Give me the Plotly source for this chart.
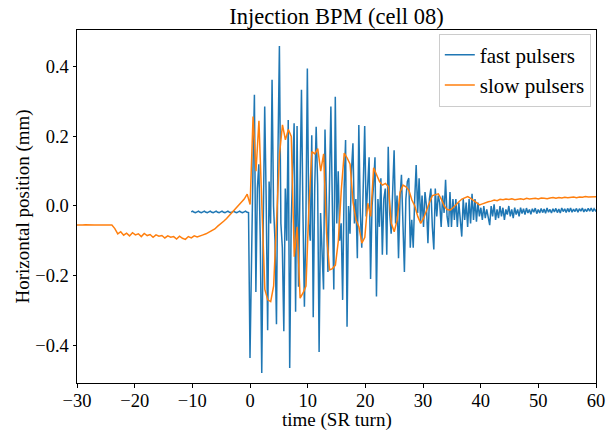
import plotly.graph_objects as go

# ---------------- data ----------------
title_text = "Injection BPM (cell 08)"
x_label = "time (SR turn)"
y_label = "Horizontal position (mm)"
x_ticks = [-30, -20, -10, 0, 10, 20, 30, 40, 50, 60]
y_ticks = [-0.4, -0.2, 0.0, 0.2, 0.4]

# fast pulsers: regular samples starting at t = -10.2
fast_start, fast_step = -10.2, 0.255
fast_pre = [
    -0.017, -0.015, -0.018, -0.019, -0.017, -0.015, -0.018, -0.019,
    -0.017, -0.015, -0.018, -0.019, -0.017, -0.015, -0.018, -0.019,
    -0.017, -0.015, -0.018, -0.019, -0.017, -0.015, -0.018, -0.019,
    -0.017, -0.015, -0.018, -0.019, -0.017, -0.015, -0.018, -0.019,
    -0.017, -0.015, -0.018, -0.019, -0.017, -0.015, -0.018, -0.019,
]
fast_kick = [
    -0.437, -0.08, 0.10, 0.32,
    -0.247, 0.05, 0.12, -0.10,
    -0.48, -0.05, 0.286, 0.02,
    -0.357, 0.07, -0.05, 0.363,
    0.0, -0.10, -0.34, 0.15,
    0.46, -0.05, -0.12, -0.36,
    0.05, -0.10, 0.247, -0.466,
    -0.05, 0.10, 0.238, -0.304,
    0.23, -0.232, 0.0, 0.334,
    -0.02, -0.29, -0.05, 0.395,
    -0.05, -0.10, 0.203, -0.32,
    0.05, 0.228, 0.06, -0.42,
    -0.02, -0.15, -0.24, 0.22,
    -0.05, -0.19, 0.05, 0.286,
    0.0, -0.24, 0.314, -0.05,
    0.10, -0.10, -0.05, -0.27,
    0.05, 0.19, -0.347, 0.0,
    -0.08, 0.10, 0.18, -0.05,
    0.02, -0.15, 0.233, -0.02,
    -0.12, 0.05, 0.23, -0.03,
    0.08, 0.14, -0.21, 0.0,
    0.06, 0.14, -0.26, 0.02,
    -0.06, 0.08, -0.14, 0.02,
    0.05, -0.14, 0.17, -0.02,
    -0.08, 0.05, 0.16, -0.05,
    0.03, -0.15, 0.02, 0.09,
    -0.05, -0.19, 0.02, 0.07,
    0.08, -0.12, -0.04, -0.12,
    0.02, 0.118, -0.02, 0.08,
    -0.045, 0.03, -0.06, 0.04,
    0.0, -0.107, 0.02, 0.05,
    -0.06, -0.125, 0.05, -0.03,
    0.03, 0.01, -0.06, 0.03,
    -0.02, 0.075, -0.03, -0.06,
    0.04, -0.06, 0.02, -0.04,
    0.02, -0.06, 0.01, -0.05,
    -0.088, 0.02, -0.04, 0.01,
    -0.06,
]
fast_decay = [
    0.02, -0.05, 0.035, -0.04,
    0.02, -0.045, 0.01, -0.03,
    -0.005, -0.04, 0.0, -0.035,
    -0.01, -0.03, -0.055, 0.0,
    -0.03, 0.005, -0.04, -0.01,
    -0.035, 0.0, -0.03, -0.005,
    -0.04, -0.01, -0.025, 0.0,
    -0.03, -0.01, -0.035, -0.005,
    -0.025, -0.01, -0.03, -0.005,
]
fast_tail = [
    -0.022, -0.008, -0.025, -0.006,
    -0.02, -0.01, -0.024, -0.008,
    -0.018, -0.006, -0.022, -0.01,
    -0.02, -0.007, -0.019, -0.009,
    -0.021, -0.006, -0.018, -0.01,
    -0.02, -0.008, -0.017, -0.007,
    -0.019, -0.009, -0.02, -0.006,
    -0.016, -0.008, -0.019, -0.007,
    -0.017, -0.006, -0.018, -0.009,
    -0.016, -0.007, -0.018, -0.008,
    -0.015, -0.006, -0.017, -0.009,
    -0.016, -0.007, -0.015, -0.006,
    -0.016, -0.008, -0.014, -0.009,
]

# slow pulsers: regular samples starting at t = -31.6
slow_start, slow_step = -31.6, 0.51
slow_pre = [
    -0.055, -0.056, -0.055, -0.055, -0.056, -0.055, -0.054, -0.055,
    -0.056, -0.055, -0.055, -0.056, -0.055, -0.055, -0.056, -0.055,
]
slow_drift = [
    -0.065, -0.080, -0.074, -0.084, -0.078, -0.086, -0.077, -0.083,
    -0.080, -0.088, -0.079, -0.085, -0.082, -0.090, -0.083, -0.087,
    -0.085, -0.092, -0.086, -0.090, -0.088, -0.095, -0.087, -0.093,
    -0.096,
]
slow_rise = [
    -0.088, -0.092, -0.086, -0.089, -0.085, -0.083, -0.080, -0.076,
    -0.071, -0.066, -0.058, -0.052, -0.044, -0.036, -0.027, -0.018,
    -0.010, 0.000, 0.010, 0.020, 0.034, 0.004,
]
slow_kick = [
    0.257, 0.10, 0.245, 0.0, -0.24, -0.27, -0.275, -0.23,
    -0.05, 0.15, 0.233, 0.19, 0.22, 0.20, -0.146, -0.06,
    -0.265, -0.25, -0.23, 0.0, 0.156, 0.15, 0.165, 0.10,
    0.15, -0.08, -0.184, -0.18, -0.17, -0.10, 0.046, 0.152,
    0.138, 0.12, 0.01, -0.04, -0.06, -0.107, -0.09, 0.008,
    -0.03, 0.11, 0.09, 0.07, 0.06, 0.065, 0.056, -0.05,
    -0.074, -0.04, 0.04, 0.06, 0.055, 0.045, 0.017, 0.0,
    -0.03, -0.05, -0.035, -0.01, 0.01, 0.03, 0.032, 0.035,
    0.02, 0.0, -0.01, -0.012, -0.005, 0.005, 0.012, 0.02,
    0.024, 0.027, 0.022, 0.015, 0.008, 0.003, 0.006, 0.01,
    0.012,
]
slow_tail = [
    0.014, 0.017, 0.015, 0.019, 0.018, 0.020, 0.019, 0.021,
    0.018, 0.020, 0.021, 0.019, 0.022, 0.020, 0.021, 0.022,
    0.020, 0.023, 0.022, 0.021, 0.023, 0.024, 0.022, 0.024,
    0.023, 0.025, 0.024, 0.025, 0.026, 0.024, 0.026, 0.025,
    0.027, 0.026, 0.027, 0.026, 0.027, 0.026,
]

fast_vals = fast_pre + fast_kick + fast_decay + fast_tail
slow_vals = slow_pre + slow_drift + slow_rise + slow_kick + slow_tail
fast_t = [fast_start + fast_step * i for i in range(len(fast_vals))]
slow_t = [slow_start + slow_step * i for i in range(len(slow_vals))]

# ---------------- figure ----------------
FONT = "Liberation Serif"
L, R, T, B = 77, 15, 30, 54
W, H = 611, 437
plot_w, plot_h = W - L - R, H - T - B

fig = go.Figure()
fig.add_trace(go.Scatter(x=fast_t, y=fast_vals, mode="lines", name="fast pulsers",
                         line=dict(color="#1f77b4", width=1.5)))
fig.add_trace(go.Scatter(x=slow_t, y=slow_vals, mode="lines", name="slow pulsers",
                         line=dict(color="#ff7f0e", width=1.5)))

axis_common = dict(showline=True, linecolor="black", linewidth=1, mirror=True,
                   ticks="outside", ticklen=3.5, tickcolor="black", showgrid=False,
                   zeroline=False, tickfont=dict(family=FONT, size=18.5, color="black"))

fig.update_layout(
    width=W, height=H,
    margin=dict(l=L, r=R, t=T, b=B, autoexpand=False),
    paper_bgcolor="white", plot_bgcolor="white",
    font=dict(family=FONT, color="black", size=19),
    title=dict(text=title_text, x=0.5, xref="paper", xanchor="center",
               y=1 - 16 / H, yref="container", yanchor="middle",
               font=dict(family=FONT, size=22.5, color="black")),
    xaxis=dict(range=[-30, 60], tickvals=x_ticks, ticklabelstandoff=-3,
               **axis_common),
    yaxis=dict(range=[-0.509, 0.506], tickvals=y_ticks, tickformat=".1f",
               **axis_common),
    legend=dict(x=0.99, y=0.99, xanchor="right", yanchor="top",
                bgcolor="rgba(255,255,255,0.8)", bordercolor="#cccccc", borderwidth=1,
                font=dict(family=FONT, size=21, color="black")),
    showlegend=True,
    annotations=[
        dict(text=x_label, xref="paper", yref="paper", x=0.5,
             y=-(420 - (H - B)) / plot_h, xanchor="center", yanchor="middle",
             showarrow=False, font=dict(family=FONT, size=19, color="black")),
        dict(text=y_label, xref="paper", yref="paper", x=-(L - 22) / plot_w,
             y=0.5, xanchor="center", yanchor="middle", textangle=-90,
             showarrow=False, font=dict(family=FONT, size=19, color="black")),
    ],
)

fig.write_html("out.html", config={"displayModeBar": False},
               post_script="document.body.style.margin='0px';")
